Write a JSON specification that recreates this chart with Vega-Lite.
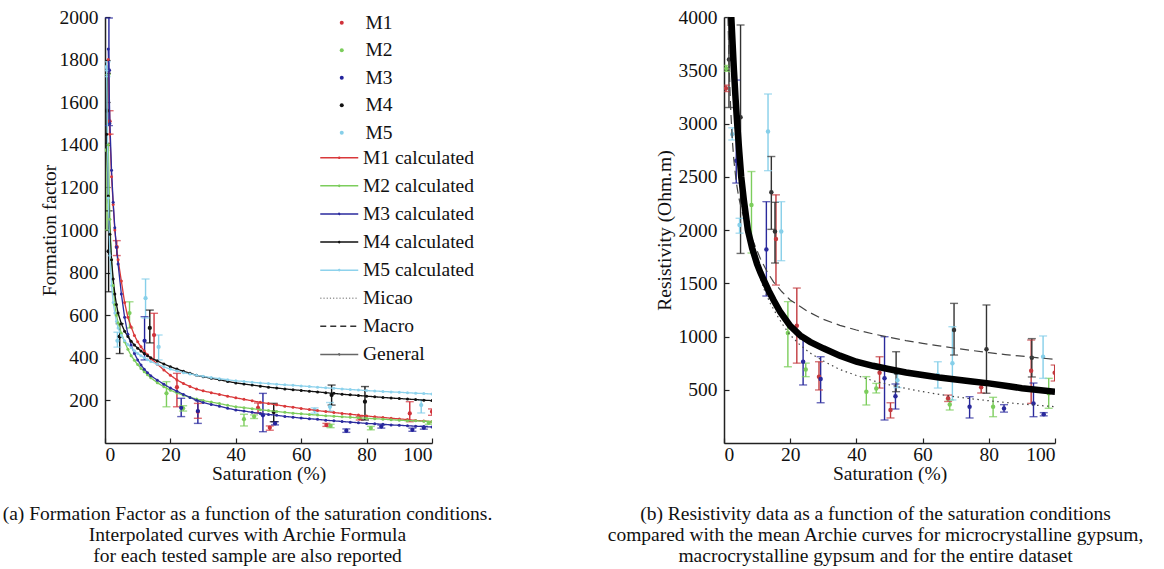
{
  "$schema": "https://vega.github.io/schema/vega-lite/v6.json",
  "background": "white",
  "padding": {"left": 2, "top": 7, "right": 2, "bottom": 2},
  "bounds": "flush",
  "spacing": 292,
  "config": {
    "font": "Liberation Serif",
    "view": {"stroke": null},
    "axis": {"grid": false, "domainColor": "#222", "domainWidth": 1.5, "tickColor": "#222", "tickSize": -5, "tickWidth": 1.2, "format": "d",
      "labelFont": "Liberation Serif", "labelFontSize": 19.5, "labelColor": "#111",
      "titleFont": "Liberation Serif", "titleFontSize": 19.5, "titleFontWeight": "normal", "titleColor": "#111"},
    "axisX": {"labelPadding": 7, "titlePadding": 1},
    "axisY": {"labelPadding": 12, "titlePadding": 4},
    "legend": {"labelFont": "Liberation Serif", "labelFontSize": 19.5, "labelColor": "#111", "padding": 0},
    "title": {"font": "Liberation Serif", "fontSize": 19.5, "fontWeight": "normal", "color": "#111"}
  },
  "resolve": {"scale": {"x": "independent", "y": "independent", "color": "independent", "strokeDash": "independent"}},
  "datasets": {
    "ffpts": [
      {"m": "M1", "s": 1.4, "v": 1510, "lo": 1450, "hi": 1560},
      {"m": "M1", "s": 3.6, "v": 920, "lo": 880, "hi": 950},
      {"m": "M1", "s": 15, "v": 507, "lo": 390, "hi": 609},
      {"m": "M1", "s": 22, "v": 262, "lo": 170, "hi": 327},
      {"m": "M1", "s": 28.4, "v": 147, "lo": 116, "hi": 186},
      {"m": "M1", "s": 46.8, "v": 165, "lo": 141, "hi": 188},
      {"m": "M1", "s": 50.4, "v": 72, "lo": 60, "hi": 80},
      {"m": "M1", "s": 67.7, "v": 84, "lo": 78, "hi": 92},
      {"m": "M1", "s": 77.9, "v": 116, "lo": 108, "hi": 124},
      {"m": "M1", "s": 93.2, "v": 139, "lo": 100, "hi": 194},
      {"m": "M1", "s": 100, "v": 147, "lo": 130, "hi": 160},
      {"m": "M2", "s": 0.6, "v": 1375, "lo": 1000, "hi": 1730},
      {"m": "M2", "s": 7.5, "v": 610, "lo": 540, "hi": 663},
      {"m": "M2", "s": 18.8, "v": 233, "lo": 170, "hi": 288},
      {"m": "M2", "s": 23.9, "v": 163, "lo": 150, "hi": 175},
      {"m": "M2", "s": 42.5, "v": 112, "lo": 80, "hi": 135},
      {"m": "M2", "s": 45.6, "v": 124, "lo": 115, "hi": 132},
      {"m": "M2", "s": 69, "v": 80, "lo": 72, "hi": 88},
      {"m": "M2", "s": 81.3, "v": 70, "lo": 62, "hi": 78},
      {"m": "M2", "s": 99, "v": 95, "lo": 88, "hi": 102},
      {"m": "M3", "s": 1.2, "v": 1750, "lo": 1490, "hi": 1995},
      {"m": "M3", "s": 12.1, "v": 480, "lo": 390, "hi": 593},
      {"m": "M3", "s": 23.3, "v": 165, "lo": 124, "hi": 210},
      {"m": "M3", "s": 28.4, "v": 150, "lo": 92, "hi": 202},
      {"m": "M3", "s": 48.3, "v": 130, "lo": 53, "hi": 233},
      {"m": "M3", "s": 52, "v": 92, "lo": 85, "hi": 100},
      {"m": "M3", "s": 73.8, "v": 58, "lo": 50, "hi": 66},
      {"m": "M3", "s": 84.5, "v": 77, "lo": 70, "hi": 84},
      {"m": "M3", "s": 94, "v": 62, "lo": 55, "hi": 70},
      {"m": "M3", "s": 97.5, "v": 72, "lo": 65, "hi": 78},
      {"m": "M4", "s": 0.6, "v": 1560, "lo": 1407, "hi": 1736},
      {"m": "M4", "s": 1.1, "v": 900, "lo": 710, "hi": 1090},
      {"m": "M4", "s": 4.5, "v": 500, "lo": 420, "hi": 560},
      {"m": "M4", "s": 13.7, "v": 540, "lo": 470, "hi": 624},
      {"m": "M4", "s": 51.6, "v": 145, "lo": 100, "hi": 186},
      {"m": "M4", "s": 69.3, "v": 225, "lo": 178, "hi": 272},
      {"m": "M4", "s": 79.5, "v": 194, "lo": 108, "hi": 265},
      {"m": "M5", "s": 0.5, "v": 1765, "lo": 1720, "hi": 1790},
      {"m": "M5", "s": 3.8, "v": 480, "lo": 450, "hi": 520},
      {"m": "M5", "s": 12.4, "v": 680, "lo": 587, "hi": 770},
      {"m": "M5", "s": 16.4, "v": 451, "lo": 390, "hi": 507},
      {"m": "M5", "s": 64.1, "v": 155, "lo": 140, "hi": 165},
      {"m": "M5", "s": 68.8, "v": 170, "lo": 150, "hi": 190},
      {"m": "M5", "s": 96.7, "v": 178, "lo": 141, "hi": 202}
    ],
    "ffcur": [
      {"s": 0.5, "M1 calculated": null, "M2 calculated": null, "M3 calculated": null, "M4 calculated": 1450, "M5 calculated": 1750},
      {"s": 1, "M1 calculated": 1800, "M2 calculated": 1400, "M3 calculated": 1850, "M4 calculated": 1160, "M5 calculated": 1150},
      {"s": 1.5, "M1 calculated": 1450, "M2 calculated": 1050, "M3 calculated": 1500, "M4 calculated": 980, "M5 calculated": 880},
      {"s": 2, "M1 calculated": 1250, "M2 calculated": 860, "M3 calculated": 1280, "M4 calculated": 860, "M5 calculated": 740},
      {"s": 2.5, "M1 calculated": 1120, "M2 calculated": 740, "M3 calculated": 1130, "M4 calculated": 770, "M5 calculated": 660},
      {"s": 3, "M1 calculated": 1000, "M2 calculated": 650, "M3 calculated": 1010, "M4 calculated": 700, "M5 calculated": 610},
      {"s": 3.5, "M1 calculated": 922, "M2 calculated": 600, "M3 calculated": 920, "M4 calculated": 650, "M5 calculated": 570},
      {"s": 4, "M1 calculated": 860, "M2 calculated": 565, "M3 calculated": 840, "M4 calculated": 610, "M5 calculated": 540},
      {"s": 5, "M1 calculated": 760, "M2 calculated": 515, "M3 calculated": 700, "M4 calculated": 560, "M5 calculated": 505},
      {"s": 6, "M1 calculated": 660, "M2 calculated": 475, "M3 calculated": 590, "M4 calculated": 525, "M5 calculated": 480},
      {"s": 7, "M1 calculated": 590, "M2 calculated": 440, "M3 calculated": 510, "M4 calculated": 500, "M5 calculated": 462},
      {"s": 8, "M1 calculated": 545, "M2 calculated": 410, "M3 calculated": 460, "M4 calculated": 478, "M5 calculated": 447},
      {"s": 9, "M1 calculated": 505, "M2 calculated": 388, "M3 calculated": 420, "M4 calculated": 460, "M5 calculated": 433},
      {"s": 10, "M1 calculated": 475, "M2 calculated": 368, "M3 calculated": 390, "M4 calculated": 445, "M5 calculated": 420},
      {"s": 11, "M1 calculated": 452, "M2 calculated": 350, "M3 calculated": 366, "M4 calculated": 432, "M5 calculated": 410},
      {"s": 12, "M1 calculated": 432, "M2 calculated": 335, "M3 calculated": 346, "M4 calculated": 420, "M5 calculated": 400},
      {"s": 13, "M1 calculated": 414, "M2 calculated": 320, "M3 calculated": 330, "M4 calculated": 410, "M5 calculated": 391},
      {"s": 14, "M1 calculated": 398, "M2 calculated": 306, "M3 calculated": 316, "M4 calculated": 400, "M5 calculated": 383},
      {"s": 16, "M1 calculated": 370, "M2 calculated": 283, "M3 calculated": 295, "M4 calculated": 385, "M5 calculated": 370},
      {"s": 18, "M1 calculated": 343, "M2 calculated": 264, "M3 calculated": 276, "M4 calculated": 371, "M5 calculated": 357},
      {"s": 20, "M1 calculated": 318, "M2 calculated": 248, "M3 calculated": 258, "M4 calculated": 358, "M5 calculated": 347},
      {"s": 22, "M1 calculated": 296, "M2 calculated": 235, "M3 calculated": 243, "M4 calculated": 347, "M5 calculated": 338},
      {"s": 24, "M1 calculated": 279, "M2 calculated": 224, "M3 calculated": 228, "M4 calculated": 337, "M5 calculated": 330},
      {"s": 26, "M1 calculated": 265, "M2 calculated": 214, "M3 calculated": 214, "M4 calculated": 327, "M5 calculated": 324},
      {"s": 28, "M1 calculated": 253, "M2 calculated": 206, "M3 calculated": 201, "M4 calculated": 318, "M5 calculated": 318},
      {"s": 30, "M1 calculated": 245, "M2 calculated": 199, "M3 calculated": 190, "M4 calculated": 311, "M5 calculated": 313},
      {"s": 32.5, "M1 calculated": 236, "M2 calculated": 192, "M3 calculated": 181, "M4 calculated": 304, "M5 calculated": 307},
      {"s": 35, "M1 calculated": 228, "M2 calculated": 185, "M3 calculated": 173, "M4 calculated": 297, "M5 calculated": 302},
      {"s": 37.5, "M1 calculated": 220, "M2 calculated": 177, "M3 calculated": 163, "M4 calculated": 289, "M5 calculated": 297},
      {"s": 40, "M1 calculated": 212, "M2 calculated": 170, "M3 calculated": 155, "M4 calculated": 282, "M5 calculated": 292},
      {"s": 42.5, "M1 calculated": 205, "M2 calculated": 166, "M3 calculated": 150, "M4 calculated": 277, "M5 calculated": 289},
      {"s": 45, "M1 calculated": 198, "M2 calculated": 161, "M3 calculated": 144, "M4 calculated": 272, "M5 calculated": 285},
      {"s": 47.5, "M1 calculated": 191, "M2 calculated": 156, "M3 calculated": 139, "M4 calculated": 267, "M5 calculated": 282},
      {"s": 50, "M1 calculated": 185, "M2 calculated": 152, "M3 calculated": 134, "M4 calculated": 262, "M5 calculated": 279},
      {"s": 52.5, "M1 calculated": 179, "M2 calculated": 148, "M3 calculated": 130, "M4 calculated": 258, "M5 calculated": 276},
      {"s": 55, "M1 calculated": 173, "M2 calculated": 144, "M3 calculated": 125, "M4 calculated": 254, "M5 calculated": 273},
      {"s": 57.5, "M1 calculated": 168, "M2 calculated": 140, "M3 calculated": 121, "M4 calculated": 250, "M5 calculated": 271},
      {"s": 60, "M1 calculated": 162, "M2 calculated": 137, "M3 calculated": 117, "M4 calculated": 247, "M5 calculated": 268},
      {"s": 62.5, "M1 calculated": 157, "M2 calculated": 134, "M3 calculated": 114, "M4 calculated": 243, "M5 calculated": 265},
      {"s": 65, "M1 calculated": 152, "M2 calculated": 131, "M3 calculated": 111, "M4 calculated": 240, "M5 calculated": 262},
      {"s": 67.5, "M1 calculated": 148, "M2 calculated": 128, "M3 calculated": 107, "M4 calculated": 236, "M5 calculated": 259},
      {"s": 70, "M1 calculated": 143, "M2 calculated": 126, "M3 calculated": 104, "M4 calculated": 233, "M5 calculated": 257},
      {"s": 72.5, "M1 calculated": 139, "M2 calculated": 123, "M3 calculated": 101, "M4 calculated": 229, "M5 calculated": 254},
      {"s": 75, "M1 calculated": 135, "M2 calculated": 121, "M3 calculated": 98, "M4 calculated": 226, "M5 calculated": 251},
      {"s": 77.5, "M1 calculated": 131, "M2 calculated": 118, "M3 calculated": 95, "M4 calculated": 223, "M5 calculated": 249},
      {"s": 80, "M1 calculated": 127, "M2 calculated": 116, "M3 calculated": 92, "M4 calculated": 220, "M5 calculated": 246},
      {"s": 82.5, "M1 calculated": 123, "M2 calculated": 114, "M3 calculated": 90, "M4 calculated": 217, "M5 calculated": 244},
      {"s": 85, "M1 calculated": 120, "M2 calculated": 112, "M3 calculated": 88, "M4 calculated": 214, "M5 calculated": 242},
      {"s": 87.5, "M1 calculated": 116, "M2 calculated": 109, "M3 calculated": 85, "M4 calculated": 211, "M5 calculated": 240},
      {"s": 90, "M1 calculated": 113, "M2 calculated": 107, "M3 calculated": 83, "M4 calculated": 209, "M5 calculated": 238},
      {"s": 92.5, "M1 calculated": 110, "M2 calculated": 105, "M3 calculated": 81, "M4 calculated": 206, "M5 calculated": 236},
      {"s": 95, "M1 calculated": 106, "M2 calculated": 104, "M3 calculated": 79, "M4 calculated": 204, "M5 calculated": 234},
      {"s": 97.5, "M1 calculated": 103, "M2 calculated": 102, "M3 calculated": 77, "M4 calculated": 201, "M5 calculated": 232},
      {"s": 100, "M1 calculated": 100, "M2 calculated": 100, "M3 calculated": 75, "M4 calculated": 199, "M5 calculated": 230}
    ],
    "rspts": [
      {"m": "M1", "s": 0.6, "v": 3330, "lo": 3300, "hi": 3360},
      {"m": "M1", "s": 15.7, "v": 1915, "lo": 1483, "hi": 2330},
      {"m": "M1", "s": 22, "v": 1100, "lo": 750, "hi": 1455},
      {"m": "M1", "s": 28.7, "v": 623, "lo": 498, "hi": 763},
      {"m": "M1", "s": 47, "v": 660, "lo": 516, "hi": 810},
      {"m": "M1", "s": 50.3, "v": 310, "lo": 235, "hi": 378},
      {"m": "M1", "s": 67.7, "v": 420, "lo": 390, "hi": 450},
      {"m": "M1", "s": 77.7, "v": 523, "lo": 470, "hi": 560},
      {"m": "M1", "s": 92.8, "v": 679, "lo": 372, "hi": 967},
      {"m": "M1", "s": 99.9, "v": 660, "lo": 582, "hi": 732},
      {"m": "M2", "s": 0.7, "v": 3517, "lo": 3490, "hi": 3545},
      {"m": "M2", "s": 8.3, "v": 2235, "lo": 1784, "hi": 2549},
      {"m": "M2", "s": 19.3, "v": 1033, "lo": 716, "hi": 1327},
      {"m": "M2", "s": 24.7, "v": 690, "lo": 623, "hi": 750},
      {"m": "M2", "s": 43, "v": 482, "lo": 357, "hi": 623},
      {"m": "M2", "s": 46, "v": 512, "lo": 470, "hi": 560},
      {"m": "M2", "s": 68.2, "v": 362, "lo": 310, "hi": 404},
      {"m": "M2", "s": 81.3, "v": 341, "lo": 247, "hi": 429},
      {"m": "M2", "s": 98.1, "v": 467, "lo": 326, "hi": 607},
      {"m": "M3", "s": 3.7, "v": 2650, "lo": 2441, "hi": 3408},
      {"m": "M3", "s": 12.8, "v": 1818, "lo": 1380, "hi": 2266},
      {"m": "M3", "s": 23.9, "v": 763, "lo": 545, "hi": 976},
      {"m": "M3", "s": 29.2, "v": 600, "lo": 378, "hi": 810},
      {"m": "M3", "s": 48.5, "v": 607, "lo": 216, "hi": 998},
      {"m": "M3", "s": 51.8, "v": 440, "lo": 319, "hi": 554},
      {"m": "M3", "s": 74.2, "v": 341, "lo": 235, "hi": 435},
      {"m": "M3", "s": 84.6, "v": 325, "lo": 290, "hi": 360},
      {"m": "M3", "s": 93.5, "v": 372, "lo": 247, "hi": 563},
      {"m": "M3", "s": 96.6, "v": 270, "lo": 255, "hi": 285},
      {"m": "M4", "s": 1.5, "v": 3600, "lo": 3150, "hi": 3995},
      {"m": "M4", "s": 5.0, "v": 3058, "lo": 1780, "hi": 3925},
      {"m": "M4", "s": 14.3, "v": 2354, "lo": 2006, "hi": 2690},
      {"m": "M4", "s": 15.4, "v": 1985, "lo": 1690, "hi": 2260},
      {"m": "M4", "s": 52, "v": 660, "lo": 482, "hi": 857},
      {"m": "M4", "s": 69.5, "v": 1061, "lo": 826, "hi": 1311},
      {"m": "M4", "s": 79.3, "v": 880, "lo": 467, "hi": 1296},
      {"m": "M4", "s": 93, "v": 800, "lo": 620, "hi": 980},
      {"m": "M5", "s": 2.5, "v": 2900, "lo": 2845, "hi": 2960},
      {"m": "M5", "s": 4.7, "v": 2047, "lo": 1970, "hi": 2110},
      {"m": "M5", "s": 13.3, "v": 2925, "lo": 2557, "hi": 3277},
      {"m": "M5", "s": 17.3, "v": 1985, "lo": 1712, "hi": 2266},
      {"m": "M5", "s": 52.4, "v": 590, "lo": 520, "hi": 650},
      {"m": "M5", "s": 64.6, "v": 638, "lo": 516, "hi": 763},
      {"m": "M5", "s": 69, "v": 748, "lo": 404, "hi": 1092},
      {"m": "M5", "s": 96.4, "v": 810, "lo": 607, "hi": 1005}
    ],
    "rsgen": [
      {"s": 2.2, "v": 4000}, {"s": 2.6, "v": 3750}, {"s": 3, "v": 3500}, {"s": 3.5, "v": 3230}, {"s": 4, "v": 2990},
      {"s": 4.6, "v": 2740}, {"s": 5.2, "v": 2500}, {"s": 6, "v": 2280}, {"s": 7.2, "v": 2000}, {"s": 8.5, "v": 1830},
      {"s": 10, "v": 1680}, {"s": 11, "v": 1600}, {"s": 12.3, "v": 1510}, {"s": 13.5, "v": 1430}, {"s": 15, "v": 1340},
      {"s": 17, "v": 1230}, {"s": 20, "v": 1100}, {"s": 23, "v": 1010}, {"s": 26, "v": 950}, {"s": 30, "v": 889},
      {"s": 35, "v": 820}, {"s": 40, "v": 763}, {"s": 45, "v": 725}, {"s": 50, "v": 692}, {"s": 55, "v": 662},
      {"s": 60, "v": 638}, {"s": 65, "v": 615}, {"s": 70, "v": 597}, {"s": 75, "v": 578}, {"s": 80, "v": 560},
      {"s": 85, "v": 537}, {"s": 90, "v": 515}, {"s": 95, "v": 497}, {"s": 100, "v": 482}
    ],
    "rsmm": [
      {"c": "Macro", "s": 1.2, "v": 4000}, {"c": "Macro", "s": 1.5, "v": 3600}, {"c": "Macro", "s": 2, "v": 3150},
      {"c": "Macro", "s": 2.5, "v": 2850}, {"c": "Macro", "s": 3, "v": 2650}, {"c": "Macro", "s": 3.7, "v": 2450},
      {"c": "Macro", "s": 4.5, "v": 2300}, {"c": "Macro", "s": 5.5, "v": 2170}, {"c": "Macro", "s": 6.5, "v": 2070},
      {"c": "Macro", "s": 7.5, "v": 1990}, {"c": "Macro", "s": 9, "v": 1880}, {"c": "Macro", "s": 11, "v": 1730},
      {"c": "Macro", "s": 13, "v": 1610}, {"c": "Macro", "s": 15, "v": 1510}, {"c": "Macro", "s": 17.5, "v": 1420},
      {"c": "Macro", "s": 20, "v": 1343}, {"c": "Macro", "s": 25, "v": 1240}, {"c": "Macro", "s": 30, "v": 1161},
      {"c": "Macro", "s": 35, "v": 1105}, {"c": "Macro", "s": 40, "v": 1061}, {"c": "Macro", "s": 45, "v": 1025},
      {"c": "Macro", "s": 50, "v": 992}, {"c": "Macro", "s": 55, "v": 962}, {"c": "Macro", "s": 60, "v": 936},
      {"c": "Macro", "s": 65, "v": 912}, {"c": "Macro", "s": 70, "v": 889}, {"c": "Macro", "s": 75, "v": 868},
      {"c": "Macro", "s": 80, "v": 848}, {"c": "Macro", "s": 85, "v": 830}, {"c": "Macro", "s": 90, "v": 815},
      {"c": "Macro", "s": 95, "v": 800}, {"c": "Macro", "s": 100, "v": 786},
      {"c": "Micao", "s": 2.6, "v": 4000}, {"c": "Micao", "s": 3, "v": 3650}, {"c": "Micao", "s": 3.5, "v": 3290},
      {"c": "Micao", "s": 4, "v": 3000}, {"c": "Micao", "s": 4.5, "v": 2780}, {"c": "Micao", "s": 5, "v": 2590},
      {"c": "Micao", "s": 6, "v": 2290}, {"c": "Micao", "s": 7, "v": 2070}, {"c": "Micao", "s": 8, "v": 1900},
      {"c": "Micao", "s": 9, "v": 1760}, {"c": "Micao", "s": 10, "v": 1640}, {"c": "Micao", "s": 12, "v": 1450},
      {"c": "Micao", "s": 14, "v": 1310}, {"c": "Micao", "s": 16, "v": 1200}, {"c": "Micao", "s": 18, "v": 1100},
      {"c": "Micao", "s": 20, "v": 1014}, {"c": "Micao", "s": 23, "v": 920}, {"c": "Micao", "s": 26, "v": 845},
      {"c": "Micao", "s": 30, "v": 770}, {"c": "Micao", "s": 35, "v": 690}, {"c": "Micao", "s": 40, "v": 634},
      {"c": "Micao", "s": 45, "v": 585}, {"c": "Micao", "s": 50, "v": 546}, {"c": "Micao", "s": 55, "v": 512},
      {"c": "Micao", "s": 60, "v": 482}, {"c": "Micao", "s": 65, "v": 457}, {"c": "Micao", "s": 70, "v": 434},
      {"c": "Micao", "s": 75, "v": 414}, {"c": "Micao", "s": 80, "v": 397}, {"c": "Micao", "s": 85, "v": 381},
      {"c": "Micao", "s": 90, "v": 366}, {"c": "Micao", "s": 95, "v": 353}, {"c": "Micao", "s": 100, "v": 341}
    ]
  },
  "hconcat": [
    {
      "width": 327,
      "height": 426,
      "title": {"text": ["(a) Formation Factor as a function of the saturation conditions.", "Interpolated curves with Archie Formula", "for each tested sample are also reported"],
        "orient": "bottom", "anchor": "middle", "frame": "group", "dx": -21, "offset": 22, "lineHeight": 21},
      "resolve": {"scale": {"color": "independent", "strokeDash": "independent"}},
      "layer": [
        {
          "data": {"name": "ffpts"},
          "mark": {"type": "rule", "strokeWidth": 1.4, "clip": true},
          "encoding": {
            "x": {"field": "s", "type": "quantitative", "title": "Saturation (%)", "scale": {"domain": [0, 100], "nice": false}, "axis": {"values": [0, 20, 40, 60, 80, 100]}},
            "y": {"field": "lo", "type": "quantitative", "title": "Formation factor", "scale": {"domain": [0, 2000], "nice": false}, "axis": {"values": [200, 400, 600, 800, 1000, 1200, 1400, 1600, 1800, 2000], "titlePadding": 0}},
            "y2": {"field": "hi"},
            "color": {"field": "m", "type": "nominal", "scale": {"domain": ["M1", "M2", "M3", "M4", "M5"], "range": ["#d0313a", "#7ccd5c", "#23239c", "#111111", "#86cfe9"]}, "legend": null}
          }
        },
        {
          "data": {"name": "ffpts"},
          "transform": [{"fold": ["lo", "hi"], "as": ["k", "cv"]}],
          "mark": {"type": "tick", "orient": "horizontal", "size": 8, "thickness": 1.4, "clip": true},
          "encoding": {
            "x": {"field": "s", "type": "quantitative", "title": "Saturation (%)"},
            "y": {"field": "cv", "type": "quantitative", "title": "Formation factor"},
            "color": {"field": "m", "type": "nominal", "scale": {"domain": ["M1", "M2", "M3", "M4", "M5"], "range": ["#d0313a", "#7ccd5c", "#23239c", "#111111", "#86cfe9"]}, "legend": null}
          }
        },
        {
          "data": {"name": "ffpts"},
          "mark": {"type": "circle", "size": 18, "opacity": 1, "clip": true},
          "encoding": {
            "x": {"field": "s", "type": "quantitative", "title": "Saturation (%)"},
            "y": {"field": "v", "type": "quantitative", "title": "Formation factor"},
            "color": {"field": "m", "type": "nominal", "scale": {"domain": ["M1", "M2", "M3", "M4", "M5"], "range": ["#d0313a", "#7ccd5c", "#23239c", "#111111", "#86cfe9"]},
              "legend": {"title": null, "orient": "none", "legendX": 227, "legendY": -4, "symbolType": "circle", "symbolSize": 16, "labelOffset": 14, "rowPadding": 6.5}}
          }
        },
        {
          "data": {"name": "ffcur"},
          "transform": [{"fold": ["M1 calculated", "M2 calculated", "M3 calculated", "M4 calculated", "M5 calculated"], "as": ["curve", "F"]}],
          "mark": {"type": "line", "strokeWidth": 1.3, "clip": true, "point": {"size": 9, "filled": true}},
          "encoding": {
            "x": {"field": "s", "type": "quantitative", "title": "Saturation (%)"},
            "y": {"field": "F", "type": "quantitative", "title": "Formation factor"},
            "color": {"field": "curve", "type": "nominal",
              "scale": {"domain": ["M1 calculated", "M2 calculated", "M3 calculated", "M4 calculated", "M5 calculated", "Micao", "Macro", "General"],
                "range": ["#d9383a", "#7ccd5c", "#2b2b9e", "#111111", "#8dd2ec", "#999999", "#333333", "#666666"]},
              "legend": {"title": null, "orient": "none", "legendX": 224.5, "legendY": 131, "symbolType": "M-4.75,0H4.75M-0.15,0A0.15,0.15,0,1,1,0.15,0A0.15,0.15,0,1,1,-0.15,0", "symbolSize": 64, "symbolStrokeWidth": 1.5, "labelOffset": 14, "rowPadding": 7.1,
                "encode": {"symbols": {"update": {"shape": {"signal": "datum.value === 'Micao' || datum.value === 'Macro' ? 'M-4.75,0H4.75' : 'M-4.75,0H4.75M-0.15,0A0.15,0.15,0,1,1,0.15,0A0.15,0.15,0,1,1,-0.15,0'"}}}}}},
            "strokeDash": {"field": "curve", "type": "nominal",
              "scale": {"domain": ["M1 calculated", "M2 calculated", "M3 calculated", "M4 calculated", "M5 calculated", "Micao", "Macro", "General"],
                "range": [[1, 0], [1, 0], [1, 0], [1, 0], [1, 0], [1.2, 2], [6, 4], [1, 0]]},
              "legend": {"title": null, "orient": "none", "legendX": 224.5, "legendY": 131, "symbolType": "M-4.75,0H4.75M-0.15,0A0.15,0.15,0,1,1,0.15,0A0.15,0.15,0,1,1,-0.15,0", "symbolSize": 64, "symbolStrokeWidth": 1.5, "labelOffset": 14, "rowPadding": 7.1,
                "encode": {"symbols": {"update": {"shape": {"signal": "datum.value === 'Micao' || datum.value === 'Macro' ? 'M-4.75,0H4.75' : 'M-4.75,0H4.75M-0.15,0A0.15,0.15,0,1,1,0.15,0A0.15,0.15,0,1,1,-0.15,0'"}}}}}}
          }
        }
      ]
    },
    {
      "width": 331,
      "height": 426,
      "title": {"text": ["(b) Resistivity data as a function of the saturation conditions", "compared with the mean Archie curves for microcrystalline gypsum,", "macrocrystalline gypsum and for the entire dataset"],
        "orient": "bottom", "anchor": "middle", "frame": "group", "dx": -14, "offset": 22, "lineHeight": 21},
      "layer": [
        {
          "data": {"name": "rspts"},
          "mark": {"type": "rule", "strokeWidth": 1.4, "clip": true},
          "encoding": {
            "x": {"field": "s", "type": "quantitative", "title": "Saturation (%)", "scale": {"domain": [0, 100], "nice": false}, "axis": {"values": [0, 20, 40, 60, 80, 100]}},
            "y": {"field": "lo", "type": "quantitative", "title": "Resistivity (Ohm.m)", "scale": {"domain": [0, 4000], "nice": false}, "axis": {"values": [500, 1000, 1500, 2000, 2500, 3000, 3500, 4000]}},
            "y2": {"field": "hi"},
            "color": {"field": "m", "type": "nominal", "scale": {"domain": ["M1", "M2", "M3", "M4", "M5"], "range": ["#c23a3f", "#7ccd5c", "#2a2a9c", "#333333", "#86cfe9"]}, "legend": null}
          }
        },
        {
          "data": {"name": "rspts"},
          "transform": [{"fold": ["lo", "hi"], "as": ["k", "cv"]}],
          "mark": {"type": "tick", "orient": "horizontal", "size": 8, "thickness": 1.4, "clip": true},
          "encoding": {
            "x": {"field": "s", "type": "quantitative", "title": "Saturation (%)"},
            "y": {"field": "cv", "type": "quantitative", "title": "Resistivity (Ohm.m)"},
            "color": {"field": "m", "type": "nominal", "scale": {"domain": ["M1", "M2", "M3", "M4", "M5"], "range": ["#c23a3f", "#7ccd5c", "#2a2a9c", "#333333", "#86cfe9"]}, "legend": null}
          }
        },
        {
          "data": {"name": "rspts"},
          "mark": {"type": "circle", "size": 20, "opacity": 1, "clip": true},
          "encoding": {
            "x": {"field": "s", "type": "quantitative", "title": "Saturation (%)"},
            "y": {"field": "v", "type": "quantitative", "title": "Resistivity (Ohm.m)"},
            "color": {"field": "m", "type": "nominal", "scale": {"domain": ["M1", "M2", "M3", "M4", "M5"], "range": ["#d0313a", "#7ccd5c", "#23239c", "#111111", "#86cfe9"]}, "legend": null}
          }
        },
        {
          "data": {"name": "rsmm"},
          "mark": {"type": "line", "strokeWidth": 1.2, "color": "#444444", "clip": true},
          "encoding": {
            "x": {"field": "s", "type": "quantitative", "title": "Saturation (%)"},
            "y": {"field": "v", "type": "quantitative", "title": "Resistivity (Ohm.m)"},
            "detail": {"field": "c", "type": "nominal"},
            "strokeDash": {"field": "c", "type": "nominal", "scale": {"domain": ["Macro", "Micao"], "range": [[9, 5], [1.5, 3.5]]}, "legend": null}
          }
        },
        {
          "data": {"name": "rsgen"},
          "mark": {"type": "line", "strokeWidth": 6.5, "color": "#000000", "clip": true},
          "encoding": {
            "x": {"field": "s", "type": "quantitative", "title": "Saturation (%)"},
            "y": {"field": "v", "type": "quantitative", "title": "Resistivity (Ohm.m)"}
          }
        }
      ]
    }
  ]
}
